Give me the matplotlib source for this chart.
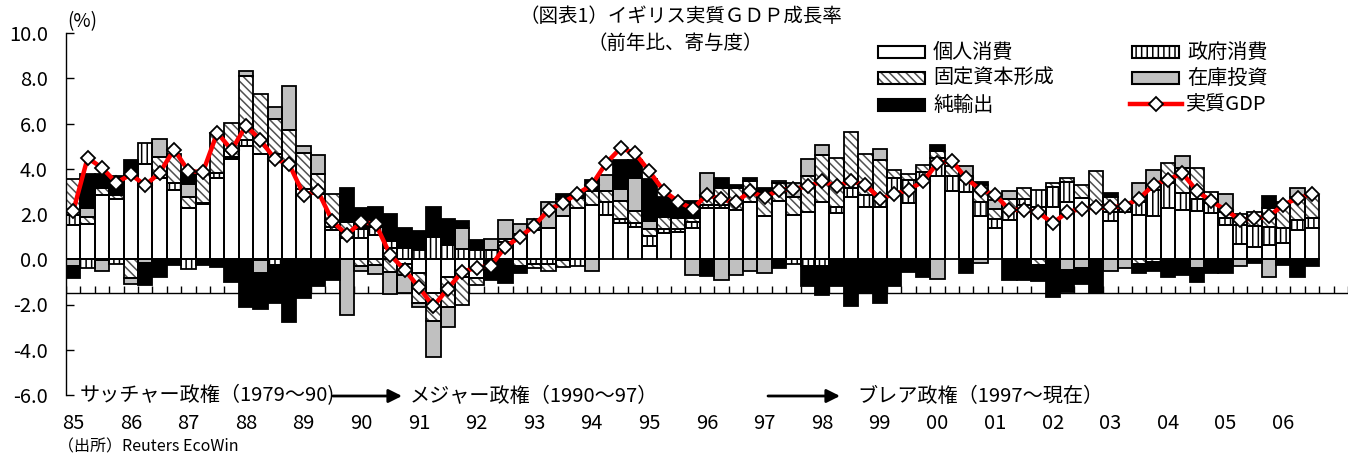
import numpy as np
import matplotlib
matplotlib.use('Agg')
import matplotlib.pyplot as plt
from matplotlib.patches import Rectangle
from matplotlib.lines import Line2D

plt.rcParams['font.family'] = ['Noto Sans CJK JP', 'DejaVu Sans']
plt.rcParams['axes.unicode_minus'] = False
plt.rcParams['hatch.linewidth'] = 1.1

# quarterly data, 1985Q1 - 2006Q3 (yoy %, contribution)
years = ['85', '86', '87', '88', '89', '90', '91', '92', '93', '94', '95',
         '96', '97', '98', '99', '00', '01', '02', '03', '04', '05', '06']

consumption = [1.53, 1.58, 2.86, 2.67, 3.67, 4.19, 3.6, 3.06, 2.27, 2.42, 3.6,
               4.41, 5.0, 4.63, 4.66, 4.22, 3.1, 2.9, 1.31, 0.95, 0.94, 1.05,
               0.5, -0.2, -0.6, -1.5, -0.8, -0.8, -0.85, 0.0, 0.78, 0.95, 1.3,
               1.36, 1.9, 2.27, 2.4, 1.96, 1.59, 1.44, 0.6, 1.15, 1.2, 1.37,
               2.26, 2.26, 2.18, 2.55, 1.89, 2.58, 1.96, 2.11, 2.55, 2.04, 2.73,
               2.33, 2.3, 2.9, 2.48, 3.5, 3.66, 3.02, 2.96, 1.9, 1.37, 1.74,
               2.4, 2.33, 2.33, 2.55, 2.7, 2.4, 1.67, 2.11, 1.96, 1.89, 2.26,
               2.18, 2.14, 2.04, 1.52, 0.67, 0.56, 0.63, 0.71, 1.3, 1.37]
government = [0.42, -0.38, -0.05, -0.2, 0.0, 0.96, 0.0, 0.3, -0.42, 0.07, 0.22,
              0.1, 0.27, -0.05, -0.25, 0.0, 0.0, 0.0, 0.1, 0.2, 0.4, 0.37,
              0.3, 0.5, 0.41, 1.0, 0.63, 0.45, 0.43, 0.41, 0.0, 0.15, -0.2,
              -0.2, -0.05, -0.3, 0.0, 0.55, 0.21, 0.15, 0.42, 0.17, 0.15, 0.28,
              0.15, 0.15, 0.0, 0.0, 0.0, 0.0, -0.2, -0.3, -0.28, 0.29, 0.41,
              0.52, 0.45, 0.7, 1.03, 0.35, 0.81, 0.64, 0.55, 0.65, 0.4, 0.5,
              0.25, 0.71, 0.88, 0.85, 0.0, 0.0, 0.44, 0.15, 0.59, 1.18, 1.1,
              0.74, 0.53, 0.45, 0.29, 0.85, 0.89, 0.8, 0.66, 0.44, 0.44]
investment = [1.6, 0.28, 0.3, 0.15, -0.84, 0.0, 0.9, 1.3, 0.47, 1.26, 1.77,
              1.52, 2.83, 2.69, 1.56, 1.48, 1.6, 0.88, 1.48, 0.5, -0.31, -0.25,
              -0.55, -0.5, -1.32, -1.25, -1.3, -1.2, -0.3, 0.0, 0.1, -0.3, -0.2,
              -0.3, -0.3, 0.45, 0.6, 0.5, 0.77, 0.55, 0.3, 0.53, 0.47, 0.18,
              0.4, 0.75, 0.96, 0.89, 1.1, 0.78, 0.8, 1.55, 2.07, 2.14, 2.48,
              1.8, 1.65, 0.35, 0.25, 0.3, 0.32, 0.44, 0.15, 0.75, 0.43, 0.42,
              0.5, -0.25, 0.15, 0.18, 0.56, 1.48, 0.66, 0.0, -0.22, -0.12, 0.89,
              1.1, 1.36, 0.5, 0.3, 0.5, 0.66, 0.85, 1.18, 1.03, 1.04]
inventory = [-0.31, 0.41, -0.45, 0.0, -0.26, -0.18, 0.8, 0.0, 0.59, 0.0, 0.0,
             0.0, 0.22, -0.55, 0.5, 1.94, 0.3, 0.84, 0.0, -2.45, -0.22, -0.4,
             -1.0, -0.8, -0.2, -1.55, -0.9, 0.95, 0.0, 0.49, 0.87, 0.45, 0.5,
             1.18, 0.75, 0.0, -0.51, 0.72, 0.55, 1.46, 0.37, 0.0, 0.0, -0.69,
             1.0, -0.92, -0.7, -0.52, -0.62, 0.08, 0.6, 0.76, 0.44, 0.0, 0.0,
             0.0, 0.47, 0.0, 0.0, 0.0, -0.87, 0.0, 0.45, -0.15, 0.4, 0.35,
             0.0, 0.0, 0.0, -0.47, -0.4, 0.0, -0.52, -0.4, 0.81, 0.88, 0.0,
             0.55, -0.4, 0.0, 0.77, -0.3, 0.0, -0.77, 0.0, 0.4, 0.0]
net_exports = [-0.52, 1.5, 0.6, 0.85, 0.71, -0.94, -0.8, -0.24, 0.49, -0.25, -0.36,
               -0.99, -2.12, -1.6, -1.7, -2.79, -1.73, -1.2, -0.9, 1.52, 0.93, 0.88,
               1.2, 0.9, 0.86, 1.3, 1.15, 0.3, 0.44, -0.91, -1.06, -0.3, 0.0,
               0.0, 0.25, 0.15, 0.5, 0.0, 1.26, 0.78, 1.85, 0.92, 0.62, 0.75,
               -0.75, 0.45, 0.15, 0.14, 0.15, -0.37, 0.0, -0.87, -1.31, -1.17, -2.05,
               -1.49, -1.93, -1.17, -0.56, -0.8, 0.27, 0.0, -0.62, 0.12, 0.0, -0.91,
               -0.91, -0.73, -1.65, -0.96, -0.7, -1.5, 0.15, 0.0, -0.38, -0.4, -0.77,
               -0.69, -0.59, -0.62, -0.62, 0.0, -0.15, 0.5, -0.25, -0.77, -0.32]
gdp = [2.12, 4.48, 4.04, 3.38, 3.75, 3.27, 3.82, 4.85, 3.9, 3.85, 5.59,
       4.83, 5.91, 5.27, 4.43, 4.19, 2.85, 3.0, 1.68, 1.09, 1.64, 1.56,
       0.2, -0.46, -1.24, -2.08, -1.31, -0.55, -0.38, -0.28, 0.55, 0.98, 1.48,
       2.18, 2.5, 2.89, 3.29, 4.25, 4.91, 4.69, 3.88, 3.02, 2.55, 2.23,
       2.85, 2.65, 2.52, 3.0, 2.73, 3.07, 3.1, 3.22, 3.44, 3.24, 3.44,
       3.29, 2.67, 2.88, 3.07, 3.44, 4.25, 4.35, 3.57, 3.07, 2.85, 2.18,
       2.18, 2.08, 1.59, 2.08, 2.23, 2.29, 2.29, 2.37, 2.67, 3.29, 3.51,
       3.81, 3.02, 2.57, 2.18, 1.74, 1.81, 1.89, 2.4, 2.7, 2.88]

labels = ['個人消費', '政府消費', '固定資本形成', '在庫投資', '純輸出', '実質GDP']

W, H = 1359, 459
N_SLOTS = 89   # axis runs a little past the last quarter
FS = 14.5

# fill colour, hatch, hatch colour for each component
styles = [('white', None, 'black'),
          ('white', '|||', 'black'),
          ('white', '\\\\\\\\', '#505050'),
          ('#c0c0c0', None, 'black'),
          ('black', None, 'black')]


def fx(x):
    return x / W


def fy(y):
    return 1 - y / H


def drawStack(ax, x, series):
    base_pos = np.zeros(len(x))
    base_neg = np.zeros(len(x))
    for vals, (color, hatch, hcol) in zip(series, styles):
        vals = np.asarray(vals, dtype=float)
        pos = np.where(vals > 0, vals, 0)
        neg = np.where(vals < 0, vals, 0)
        for h, b in ((pos, base_pos), (neg, base_neg)):
            m = h != 0
            ax.bar(x[m], h[m], bottom=b[m], width=1.0, color=color,
                   edgecolor=hcol, hatch=hatch, linewidth=0, zorder=2)
            ax.bar(x[m], h[m], bottom=b[m], width=1.0, fill=False,
                   edgecolor='black', linewidth=1.3, zorder=3)
        base_pos = base_pos + pos
        base_neg = base_neg + neg


def drawLegend(fig):
    slots = [(878, 52), (1132, 52), (878, 78), (1132, 78), (878, 105)]
    for (px, py), (color, hatch, hcol), lab in zip(slots, styles, labels):
        r = (fx(px), fy(py + 6)), fx(47), 12 / H
        fig.add_artist(Rectangle(*r, transform=fig.transFigure, facecolor=color,
                                 edgecolor=hcol, hatch=hatch, linewidth=0))
        fig.add_artist(Rectangle(*r, transform=fig.transFigure, fill=False,
                                 edgecolor='black', linewidth=1.5))
        fig.text(fx(px + 55), fy(py), lab, fontsize=FS, va='center', ha='left')
    # GDP line entry
    fig.add_artist(Line2D([fx(1130), fx(1182)], [fy(104), fy(104)],
                          transform=fig.transFigure, color='red', linewidth=3.2))
    fig.add_artist(Line2D([fx(1156)], [fy(104)], transform=fig.transFigure,
                          marker='D', markersize=7, markerfacecolor='white',
                          markeredgecolor='black', markeredgewidth=1.3))
    fig.text(fx(1186), fy(104), labels[5], fontsize=FS, va='center', ha='left')


def main():
    fig = plt.figure(figsize=(W / 100, H / 100), dpi=100)
    ax = fig.add_axes([fx(66), fy(395), fx(1348 - 66), (395 - 33) / H])

    x = np.arange(len(gdp)) + 0.5
    drawStack(ax, x, [consumption, government, investment, inventory, net_exports])
    ax.plot(x, gdp, color='red', linewidth=3.2, marker='D', markersize=7,
            markerfacecolor='white', markeredgecolor='black', markeredgewidth=1.3,
            zorder=5)

    # category axis crosses at -1.5, ticks pointing up
    ax.axhline(-1.5, color='black', linewidth=1.0, zorder=1)
    ax.vlines(np.arange(N_SLOTS + 1), -1.5, -1.19, color='black', linewidth=1.0, zorder=1)

    ax.set_xlim(0, N_SLOTS)
    ax.set_ylim(-6, 10)
    ax.set_xticks([])
    yt = np.arange(-6, 11, 2)
    ax.set_yticks(yt)
    ax.set_yticklabels(['%.1f' % v for v in yt])
    ax.tick_params(axis='y', direction='in', length=5.5, width=1.0, pad=13, labelsize=FS)
    for s in ['top', 'right', 'bottom']:
        ax.spines[s].set_visible(False)
    ax.spines['left'].set_linewidth(1.0)

    for i, yr in enumerate(years):
        ax.text(4 * i + 0.5, -7.28, yr, ha='center', va='center', fontsize=FS, clip_on=False)

    fig.text(fx(82), fy(22), '(%)', ha='center', va='center', fontsize=13.5)
    fig.text(fx(681), fy(16), '（図表1）イギリス実質ＧＤＰ成長率', ha='center', va='center', fontsize=14)
    fig.text(fx(675), fy(43), '（前年比、寄与度）', ha='center', va='center', fontsize=14)

    # government periods
    fig.text(fx(80), fy(396), 'サッチャー政権（1979～90)', ha='left', va='center', fontsize=FS)
    fig.text(fx(410), fy(396), 'メジャー政権（1990～97）', ha='left', va='center', fontsize=FS)
    fig.text(fx(857), fy(396), 'ブレア政権（1997～現在）', ha='left', va='center', fontsize=FS)
    for x0, x1 in [(333, 402), (768, 840)]:
        ax.annotate('', xy=(fx(x1), fy(396)), xytext=(fx(x0), fy(396)),
                    xycoords='figure fraction', textcoords='figure fraction',
                    arrowprops=dict(arrowstyle='-|>', color='black', lw=2,
                                    mutation_scale=20, shrinkA=0, shrinkB=0))

    fig.text(fx(58), fy(447), '（出所）Reuters EcoWin', ha='left', va='center', fontsize=11.5)

    drawLegend(fig)
    fig.savefig('out.png', dpi=100, facecolor='white')


if __name__ == '__main__':
    main()
